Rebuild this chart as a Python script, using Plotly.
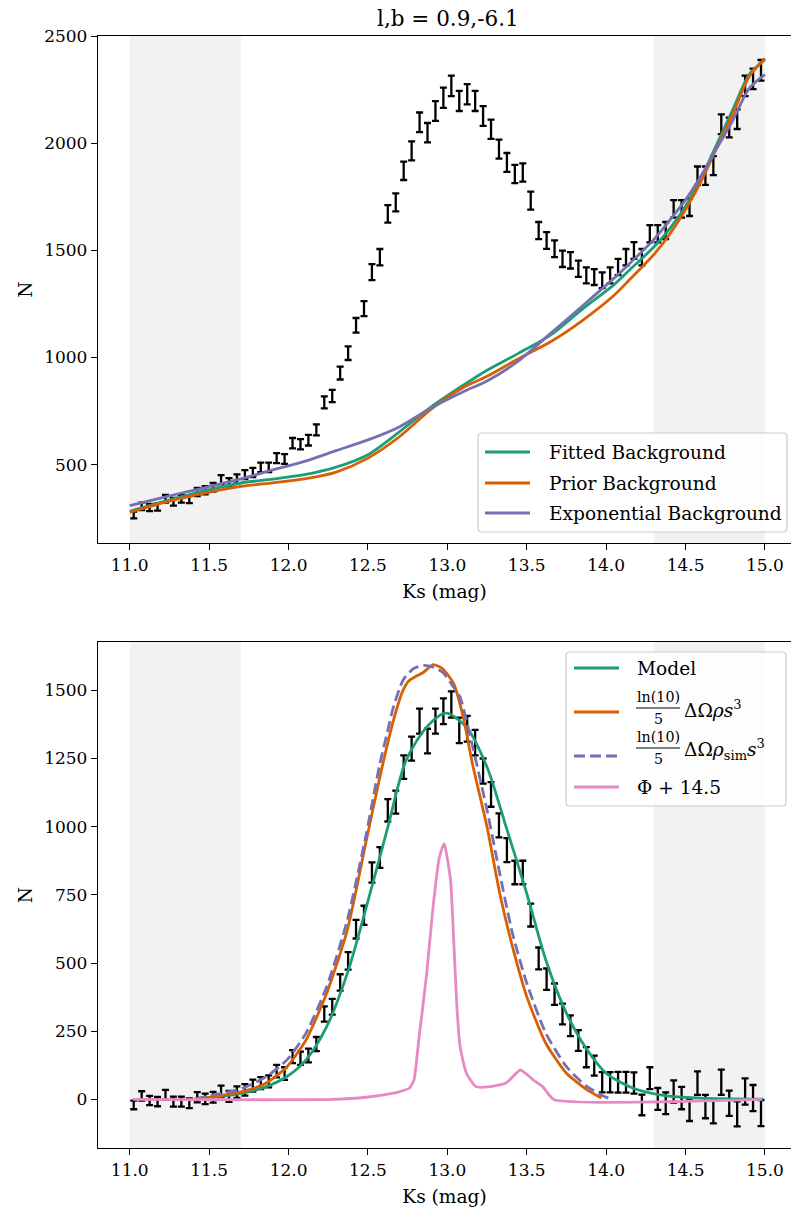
import plotly.graph_objects as go

# ---------------- data ----------------
ks_bins = [round(11.025 + 0.05 * i, 3) for i in range(80)]

counts_total = [265, 305, 300, 302, 340, 326, 340, 338, 372, 380,
                394, 430, 417, 433, 453, 463, 487, 487, 530, 526,
                600, 595, 614, 662, 790, 820, 927, 1020, 1150, 1228,
                1398, 1468, 1670, 1724, 1871, 1964, 2097, 2049, 2150, 2212,
                2267, 2197, 2228, 2197, 2127, 2065, 1972, 1910, 1856, 1863,
                1732, 1592, 1546, 1507, 1460, 1453, 1414, 1383, 1375, 1360,
                1383, 1422, 1468, 1499, 1468, 1577, 1577, 1592, 1693, 1693,
                1701, 1848, 1848, 1895, 2088, 2073, 2112, 2267, 2300, 2340]

counts_rc = [-20, 13, -4, -8, 17, -8, -8, -14, 8, 2,
             8, 30, 11, 27, 35, 51, 60, 66, 104, 95,
             157, 151, 161, 203, 313, 340, 429, 508, 624, 675,
             832, 887, 1060, 1090, 1218, 1286, 1387, 1314, 1387, 1423,
             1448, 1353, 1359, 1308, 1204, 1118, 1005, 914, 832, 832,
             676, 517, 441, 386, 313, 270, 216, 155, 124, 63,
             63, 63, 63, 60, -20, 78, 2, -14, 29, 5,
             -38, 60, -26, -44, 63, -14, -53, 29, 5, -50]

count_err = [16, 17, 17, 17, 18, 18, 18, 18, 19, 19,
             20, 21, 20, 21, 21, 22, 22, 22, 23, 23,
             24, 24, 25, 26, 28, 29, 30, 32, 34, 35,
             37, 38, 41, 42, 43, 44, 46, 45, 46, 47,
             48, 47, 47, 47, 46, 45, 44, 44, 43, 43,
             42, 40, 39, 39, 38, 38, 38, 37, 37, 37,
             37, 38, 38, 39, 38, 40, 40, 40, 41, 41,
             41, 43, 43, 44, 46, 46, 46, 48, 48, 48]

bg_ks = [11.0, 11.2, 11.4, 11.7, 11.9, 12.1, 12.3, 12.5, 12.7, 12.9, 13.1,
         13.25, 13.45, 13.65, 13.85, 14.05, 14.15, 14.3, 14.4, 14.5, 14.6,
         14.7, 14.8, 14.9, 15.0]
bg_fitted = [282, 325, 365, 414, 432, 453, 488, 546, 654, 770, 870,
             940, 1020, 1104, 1225, 1340, 1410, 1515, 1600, 1705, 1840,
             2000, 2160, 2320, 2390]
bg_prior = [277, 320, 355, 398, 415, 433, 465, 530, 631, 760, 860,
            912, 995, 1073, 1172, 1290, 1365, 1480, 1575, 1690, 1825,
            1985, 2140, 2310, 2395]
bg_exp = [308, 345, 380, 433, 475, 515, 565, 615, 677, 765, 840,
          890, 985, 1112, 1240, 1370, 1440, 1550, 1640, 1735, 1850,
          1980, 2110, 2255, 2320]

model_ks = [11.41, 11.71, 11.86, 11.99, 12.11, 12.24, 12.37, 12.49, 12.62, 12.74,
            12.87, 12.99, 13.12, 13.25, 13.37, 13.50, 13.62, 13.75, 13.88, 14.00,
            14.17, 14.38, 14.59, 14.99]
model_n = [0, 23, 47, 84, 145, 267, 462, 706, 987, 1243,
           1365, 1416, 1365, 1218, 999, 755, 511, 316, 182, 96,
           41, 13, 5, 1]

rho_ks = [11.41, 11.71, 11.86, 11.99, 12.11, 12.24, 12.37, 12.49, 12.575, 12.66,
          12.72, 12.76, 12.85, 12.91, 12.97, 13.04, 13.10, 13.16, 13.25, 13.33,
          13.41, 13.50, 13.62, 13.75, 13.88, 13.97]
rho_n = [0, 29, 60, 120, 218, 389, 621, 950, 1182, 1389,
         1499, 1536, 1566, 1594, 1579, 1524, 1401, 1225, 999, 755,
         560, 377, 206, 96, 35, 5]

rhosim_ks = [11.41, 11.71, 11.86, 11.99, 12.11, 12.24, 12.37, 12.49, 12.575, 12.62,
             12.66, 12.72, 12.785, 12.85, 12.91, 12.97, 13.04, 13.08, 13.16, 13.25,
             13.33, 13.41, 13.50, 13.62, 13.75, 13.88, 14.00, 14.04]
rhosim_n = [2, 41, 84, 145, 243, 413, 657, 975, 1231, 1341,
            1438, 1536, 1579, 1591, 1585, 1566, 1511, 1475, 1292, 1060,
            828, 609, 426, 243, 120, 47, 8, 0]

phi_ks = [11.02, 12.28, 12.49, 12.66, 12.70, 12.76, 12.79, 12.82, 12.87, 12.91,
          12.95, 12.98, 13.02, 13.04, 13.06, 13.08, 13.12, 13.18, 13.27, 13.37,
          13.46, 13.54, 13.60, 13.67, 14.98]
phi_n = [0, 0, 8, 23, 29, 41, 72, 218, 462, 706,
         889, 938, 804, 584, 340, 194, 96, 47, 47, 60,
         108, 72, 47, 0, 0]

shade_ranges = [(11.0, 11.7), (14.3, 15.0)]
x_ticks = [11.0, 11.5, 12.0, 12.5, 13.0, 13.5, 14.0, 14.5, 15.0]
y_ticks_top = [500, 1000, 1500, 2000, 2500]
y_ticks_bot = [0, 250, 500, 750, 1000, 1250, 1500]

title_text = "l,b = 0.9,-6.1"
xlabel = "Ks (mag)"
ylabel = "N"
top_labels = ["Fitted Background", "Prior Background", "Exponential Background"]
bot_labels = ["Model", "ΔΩ<i>ρs</i><sup>3</sup>",
              "ΔΩ<i>ρ</i><sub>sim</sub><i>s</i><sup>3</sup>", "Φ + 14.5"]
frac_num = "ln(10)"
frac_den = "5"

# ---------------- styles ----------------
GREEN = "#1b9e77"
ORANGE = "#d95f02"
PURPLE = "#7570b3"
PINK = "#e78ac3"
FONT = "DejaVu Serif"
FS_TICK = 17
FS_TXT = 18.6
LW = 2.8
DASH = "11px,5px"

W, H = 791, 1213
ML, MR, MT, MB = 98, 0, 36, 65
PW = W - ML - MR
PH = H - MT - MB


def px(xp):
    return (xp - ML) / PW


def py(yp):
    return (H - MB - yp) / PH


fig = go.Figure()

err_style = dict(type="data", array=count_err, visible=True,
                 color="black", thickness=2.3, width=3.5)

# top panel
fig.add_trace(go.Scatter(x=ks_bins, y=counts_total, mode="markers",
                         marker=dict(size=2, color="rgba(0,0,0,0)"),
                         error_y=err_style, showlegend=False, xaxis="x", yaxis="y"))
for vals, col in [(bg_fitted, GREEN), (bg_prior, ORANGE), (bg_exp, PURPLE)]:
    fig.add_trace(go.Scatter(x=bg_ks, y=vals, mode="lines", showlegend=False,
                             line=dict(color=col, width=LW, shape="spline", smoothing=0.8),
                             xaxis="x", yaxis="y"))

# bottom panel
fig.add_trace(go.Scatter(x=ks_bins, y=counts_rc, mode="markers",
                         marker=dict(size=2, color="rgba(0,0,0,0)"),
                         error_y=err_style, showlegend=False, xaxis="x2", yaxis="y2"))
fig.add_trace(go.Scatter(x=model_ks, y=model_n, mode="lines", showlegend=False,
                         line=dict(color=GREEN, width=LW, shape="spline", smoothing=0.8),
                         xaxis="x2", yaxis="y2"))
fig.add_trace(go.Scatter(x=rho_ks, y=rho_n, mode="lines", showlegend=False,
                         line=dict(color=ORANGE, width=LW, shape="spline", smoothing=0.6),
                         xaxis="x2", yaxis="y2"))
fig.add_trace(go.Scatter(x=rhosim_ks, y=rhosim_n, mode="lines", showlegend=False,
                         line=dict(color=PURPLE, width=LW, dash=DASH, shape="spline", smoothing=0.6),
                         xaxis="x2", yaxis="y2"))
fig.add_trace(go.Scatter(x=phi_ks, y=phi_n, mode="lines", showlegend=False,
                         line=dict(color=PINK, width=LW, shape="spline", smoothing=0.5),
                         xaxis="x2", yaxis="y2"))

shapes = []
for xr, yr in [("x", "y domain"), ("x2", "y2 domain")]:
    for a, b in shade_ranges:
        shapes.append(dict(type="rect", xref=xr, yref=yr, x0=a, x1=b, y0=0, y1=1,
                           fillcolor="#f2f2f2", line=dict(width=0), layer="below"))

annotations = []


def rounded_box(x0, y0, x1, y1, r=4):
    # pixel coords -> paper path with rounded corners
    X0, X1 = px(x0), px(x1)
    Y0, Y1 = py(y0), py(y1)  # Y0 top, Y1 bottom
    rx, ry = r / PW, r / PH
    path = (f"M {X0 + rx},{Y0} L {X1 - rx},{Y0} Q {X1},{Y0} {X1},{Y0 - ry} "
            f"L {X1},{Y1 + ry} Q {X1},{Y1} {X1 - rx},{Y1} "
            f"L {X0 + rx},{Y1} Q {X0},{Y1} {X0},{Y1 + ry} "
            f"L {X0},{Y0 - ry} Q {X0},{Y0} {X0 + rx},{Y0} Z")
    return dict(type="path", xref="paper", yref="paper", path=path,
                fillcolor="rgba(255,255,255,0.8)", line=dict(color="#cccccc", width=1.2),
                layer="above")


def legend_line(x0, x1, y, col, dash="solid"):
    return dict(type="line", xref="paper", yref="paper", x0=px(x0), x1=px(x1),
                y0=py(y), y1=py(y), line=dict(color=col, width=LW, dash=dash), layer="above")


def txt(text, x, y, size=FS_TXT, xanchor="left", yanchor="middle"):
    return dict(text=text, x=px(x), y=py(y), xref="paper", yref="paper",
                xanchor=xanchor, yanchor=yanchor, showarrow=False,
                font=dict(family=FONT, size=size, color="black"))


# top legend
shapes.append(rounded_box(478, 433, 787, 532))
for lab, col, yy in zip(top_labels, [GREEN, ORANGE, PURPLE], [452, 483, 513]):
    shapes.append(legend_line(485, 530, yy, col))
    annotations.append(txt(lab, 547, yy))

# bottom legend
shapes.append(rounded_box(566, 652, 786, 806))
shapes.append(legend_line(574, 619, 668, GREEN))
shapes.append(legend_line(574, 619, 712, ORANGE))
shapes.append(legend_line(574, 619, 756, PURPLE, DASH))
shapes.append(legend_line(574, 619, 787, PINK))
annotations.append(txt(bot_labels[0], 635, 668))
annotations.append(txt(bot_labels[3], 635, 787))
for yb, lab in [(708, bot_labels[1]), (748, bot_labels[2])]:
    annotations.append(txt(frac_num, 658, yb - 1, size=14.3, xanchor="center", yanchor="bottom"))
    annotations.append(txt(frac_den, 658, yb + 1, size=14.3, xanchor="center", yanchor="top"))
    shapes.append(dict(type="line", xref="paper", yref="paper", x0=px(636), x1=px(680),
                       y0=py(yb), y1=py(yb), line=dict(color="black", width=1), layer="above"))
    annotations.append(txt(lab, 682, yb + 1))

# title
annotations.append(dict(text=title_text, x=px(447.5), y=1, xref="paper", yref="paper",
                        xanchor="center", yanchor="bottom", yshift=3, showarrow=False,
                        font=dict(family=FONT, size=21.5, color="black")))

axis_common = dict(showline=True, linecolor="black", linewidth=1.3, ticks="outside",
                   ticklen=6, tickwidth=1.3, tickcolor="black", showgrid=False,
                   zeroline=False, tickfont=dict(family=FONT, size=FS_TICK, color="black"))

xr = [10.8, 15.164]
fig.update_layout(
    width=W, height=H,
    margin=dict(l=ML, r=MR, t=MT, b=MB),
    plot_bgcolor="white", paper_bgcolor="white",
    font=dict(family=FONT, size=FS_TXT, color="black"),
    shapes=shapes,
    annotations=annotations,
    showlegend=False,
    xaxis=dict(domain=[0, 1], range=xr, anchor="y", mirror=True, tickvals=x_ticks,
               tickformat=".1f",
               title=dict(text=xlabel, font=dict(family=FONT, size=FS_TXT), standoff=11),
               **axis_common),
    yaxis=dict(domain=[py(543), 1], range=[134, 2500], anchor="x", tickvals=y_ticks_top,
               title=dict(text=ylabel, font=dict(family=FONT, size=FS_TXT), standoff=6),
               **axis_common),
    xaxis2=dict(domain=[0, 1], range=xr, anchor="y2", mirror=True, tickvals=x_ticks,
                tickformat=".1f",
                title=dict(text=xlabel, font=dict(family=FONT, size=FS_TXT), standoff=11),
                **axis_common),
    yaxis2=dict(domain=[0, py(642)], range=[-178, 1677], anchor="x2", tickvals=y_ticks_bot,
                title=dict(text=ylabel, font=dict(family=FONT, size=FS_TXT), standoff=6),
                **axis_common),
)

fig.write_html("out.html")
